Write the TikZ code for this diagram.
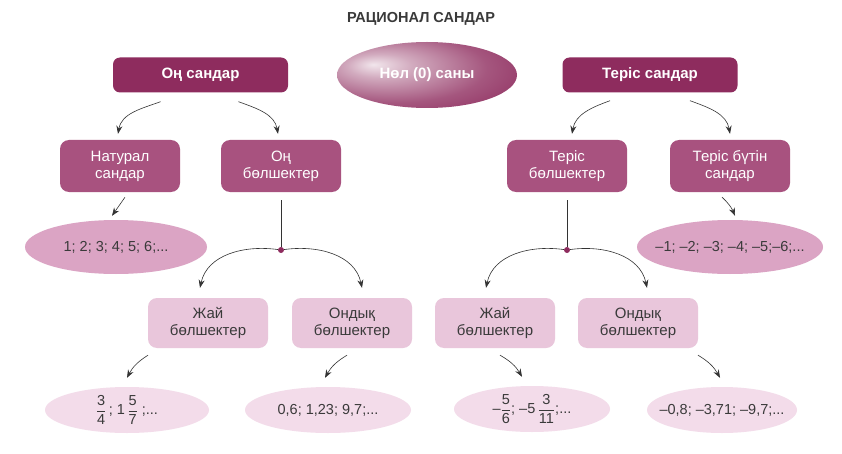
\documentclass[tikz,border=0pt]{standalone}
\usepackage{fontspec}
\setmainfont{Liberation Sans}
\usetikzlibrary{shapes.geometric,arrows.meta}
\definecolor{magdark}{HTML}{8E2C5E}
\definecolor{magmid}{HTML}{A8527F}
\definecolor{maglight}{HTML}{E9C6DB}
\definecolor{ellmid}{HTML}{DBA4C4}
\definecolor{elllight}{HTML}{F3DCEA}
\definecolor{txtgray}{HTML}{3A3A3A}
\definecolor{linegray}{HTML}{333333}
\newcommand{\zerow}[1]{\makebox[0pt]{#1}}
\pgfdeclareradialshading{zeroshade}{\pgfpoint{-15bp}{8bp}}{%
  color(0bp)=(magdark!12!white);
  color(9bp)=(magdark!40!white);
  color(26bp)=(magdark!80!white);
  color(42bp)=(magdark);
  color(70bp)=(magdark!80!black)}
\tikzset{
  topbox/.style={draw=none, fill=magdark, rounded corners=7pt, minimum width=175pt, minimum height=35pt, text=white, font=\fontsize{15}{17}\selectfont\bfseries},
  midbox/.style={draw=none, fill=magmid, rounded corners=9pt, minimum width=120pt, minimum height=52pt, text=white, align=center, font=\fontsize{15}{17}\selectfont},
  lowbox/.style={draw=none, fill=maglight, rounded corners=9pt, minimum width=120pt, minimum height=50pt, text=txtgray, align=center, font=\fontsize{15}{17}\selectfont},
  ellmidst/.style={ellipse, draw=none, fill=ellmid, inner sep=0pt, minimum height=54pt, text=txtgray, font=\fontsize{14.5}{16}\selectfont},
  elllowst/.style={ellipse, draw=none, fill=elllight, inner sep=0pt, minimum height=46pt, text=txtgray, font=\fontsize{14.5}{16}\selectfont},
  arr/.style={draw=linegray, line width=0.6pt, -{Stealth[length=8pt,width=6pt]}},
  plain/.style={draw=linegray, line width=0.6pt},
  junction/.style={circle, fill=magdark, inner sep=0pt, minimum size=6pt}
}
\begin{document}
\begin{tikzpicture}[x=1pt,y=1pt]
\useasboundingbox (0,0) rectangle (842,453);
\fill[white] (0,0) rectangle (842,453);

\node[text=txtgray, font=\fontsize{14.5}{16}\selectfont\bfseries] (title) at (421,434) {РАЦИОНАЛ САНДАР};

\node[topbox] (on) at (200.5,378) {Оң сандар};
\node[ellipse, shading=zeroshade, minimum width=180pt, minimum height=66pt, text=white, font=\fontsize{15}{17}\selectfont\bfseries] (zero) at (427,378) {Нөл (0) саны};
\node[topbox] (ter) at (650,378) {Теріс сандар};

\node[midbox] (nat) at (120,287) {Натурал\\сандар};
\node[midbox] (onb) at (281,287) {Оң\\бөлшектер};
\node[midbox] (terb) at (567,287) {Теріс\\бөлшектер};
\node[midbox] (terbut) at (730,287) {Теріс бүтін\\сандар};

\node[ellmidst, minimum width=182pt] (e1) at (116,206) {\zerow{1; 2; 3; 4; 5; 6;...}};
\node[ellmidst, minimum width=186pt] (e2) at (730,206) {\zerow{–1; –2; –3; –4; –5;–6;...}};

\node[junction] (d1) at (281,203) {};
\node[junction] (d2) at (567,203) {};

\node[lowbox] (jl) at (208,130) {Жай\\бөлшектер};
\node[lowbox] (ol) at (352,130) {Ондық\\бөлшектер};
\node[lowbox] (jr) at (495,130) {Жай\\бөлшектер};
\node[lowbox] (or) at (638,130) {Ондық\\бөлшектер};

\node[elllowst, minimum width=164pt] (b1) at (127,43) {\zerow{$\displaystyle\frac{\mbox{3}}{\mbox{4}}$\,; 1\,$\displaystyle\frac{\mbox{5}}{\mbox{7}}$ ;...}};
\node[elllowst, minimum width=166pt] (b2) at (328,43) {\zerow{0,6; 1,23; 9,7;...}};
\node[elllowst, minimum width=156pt] (b3) at (532,44) {\zerow{–$\displaystyle\frac{\mbox{5}}{\mbox{6}}$; –5\,$\displaystyle\frac{\mbox{3}}{\mbox{11}}$;...}};
\node[elllowst, minimum width=150pt] (b4) at (722,43) {\zerow{–0,8; –3,71; –9,7;...}};

% top arrows
\draw[arr] ([xshift=-40pt,yshift=-9pt]on.south) to[out=200,in=80] ([xshift=-2pt,yshift=6pt]nat.north);
\draw[arr] ([xshift=38pt,yshift=-9pt]on.south) to[out=-20,in=100] ([xshift=-3pt,yshift=6pt]onb.north);
\draw[arr] ([xshift=-40pt,yshift=-8pt]ter.south) to[out=200,in=80] ([xshift=5pt,yshift=6pt]terb.north);
\draw[arr] ([xshift=40pt,yshift=-8pt]ter.south) to[out=-20,in=100] ([xshift=0pt,yshift=6pt]terbut.north);

% second row to ellipses
\draw[arr] ([xshift=5pt,yshift=-5pt]nat.south) -- ([xshift=-4pt,yshift=4pt]e1.north);
\draw[arr] ([xshift=-8pt,yshift=-5pt]terbut.south) to[bend left=12] ([xshift=5pt,yshift=4pt]e2.north);

% junction lines
\draw[plain] ([yshift=-8pt]onb.south) -- (d1);
\draw[plain] ([yshift=-8pt]terb.south) -- (d2);
\draw[arr] (d1) to[out=172,in=78] ([xshift=-8pt,yshift=10pt]jl.north);
\draw[arr] (d1) to[out=8,in=102] ([xshift=10pt,yshift=10pt]ol.north);
\draw[arr] (d2) to[out=172,in=78] ([xshift=-9pt,yshift=10pt]jr.north);
\draw[arr] (d2) to[out=8,in=102] ([xshift=9pt,yshift=10pt]or.north);

% third row to bottom ellipses
\draw[arr] ([xshift=-60pt,yshift=-7pt]jl.south) to[bend right=15] ([xshift=0pt,yshift=9pt]b1.north);
\draw[arr] ([xshift=-5pt,yshift=-7pt]ol.south) to[bend right=15] ([xshift=-3pt,yshift=9pt]b2.north);
\draw[arr] ([xshift=5pt,yshift=-7pt]jr.south) to[bend left=15] ([xshift=-10pt,yshift=9pt]b3.north);
\draw[arr] ([xshift=60pt,yshift=-7pt]or.south) to[bend left=15] ([xshift=-2pt,yshift=9pt]b4.north);
\end{tikzpicture}
\end{document}
